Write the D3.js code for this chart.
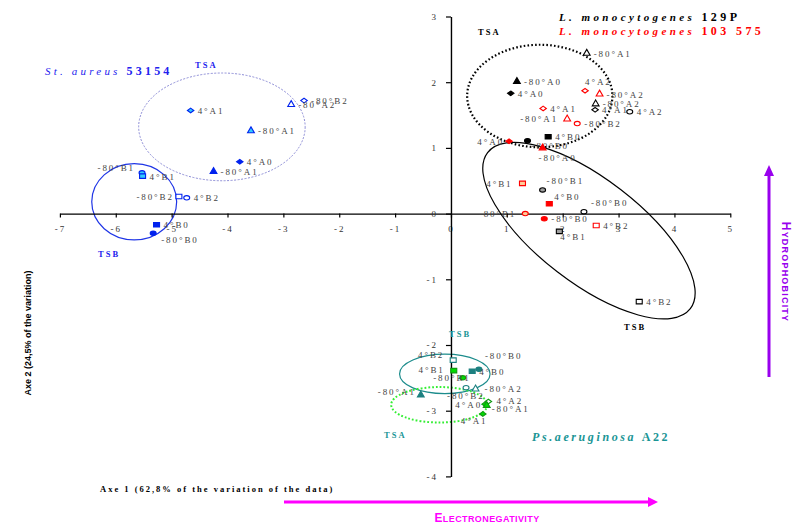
<!DOCTYPE html>
<html>
<head>
<meta charset="utf-8">
<script src="https://cdn.jsdelivr.net/npm/d3@7"></script>
<style>
    body { margin: 0; background: #fff; }
    .tick text { font-family: "Liberation Serif", serif; font-size: 9px; fill: #333; letter-spacing: 2px; }
    .pt-label { font-family: "Liberation Serif", serif; font-size: 9px; fill: #444; letter-spacing: 1.9px; }
    .grp { font-family: "Liberation Serif", serif; font-size: 8.5px; font-weight: bold; letter-spacing: 2px; }
</style>
</head>
<body>
<div id="chart"></div>
<script>
// axis ticks
const xTicks = [-7, -6, -5, -4, -3, -2, -1, 0, 1, 2, 3, 4, 5];
const yTicks = [-4, -3, -2, -1, 0, 1, 2, 3];

// St. aureus 53154
const aureusLabels = ['4°A1', '-80°A2', '-80°B2', '-80°A1', '4°A0', '-80°A1', '-80°B1', '4°B1', '-80°B2', '4°B2', '4°B0', '-80°B0'];
const aureusX = [-4.66, -2.86, -2.63, -3.58, -3.78, -4.25, -5.53, -5.52, -4.87, -4.73, -5.27, -5.33];
const aureusY = [1.57, 1.66, 1.72, 1.26, 0.79, 0.64, 0.62, 0.57, 0.26, 0.24, -0.17, -0.30];
const aureusShapes = ['diamond', 'triangle', 'diamond', 'triangle', 'diamond', 'triangle', 'circle', 'square', 'square', 'circle', 'square', 'circle'];
const aureusKinds = ['light', 'open', 'open', 'light', 'solid', 'solid', 'light', 'light', 'open', 'open', 'solid', 'solid'];

// L. monocytogenes 129P
const l129Labels = ['-80°A1', '-80°A0', '4°A0', '-80°A2', '4°A1', '4°A2', '4°B0', '-80°B0', '-80°B1', '-80°B0', '4°B1', '4°B2'];
const l129X = [2.43, 1.18, 1.07, 2.59, 2.58, 3.20, 1.74, 1.37, 1.64, 2.38, 1.94, 3.37];
const l129Y = [2.44, 2.01, 1.83, 1.67, 1.58, 1.55, 1.17, 1.11, 0.36, 0.03, -0.27, -1.34];
const l129Shapes = ['triangle', 'triangle', 'diamond', 'triangle', 'diamond', 'circle', 'square', 'circle', 'circle', 'circle', 'square', 'square'];
const l129Kinds = ['open', 'solid', 'solid', 'open', 'open', 'open', 'solid', 'solid', 'grey', 'open', 'grey', 'open'];

// L. monocytogenes 103 575
const l103Labels = ['4°A2', '-80°A2', '4°A1', '-80°A1', '-80°B2', '4°A0', '-80°A0', '4°B1', '4°B0', '-80°B1', '-80°B0', '4°B2'];
const l103X = [2.40, 2.66, 1.65, 2.08, 2.26, 1.04, 1.64, 1.28, 1.76, 1.33, 1.67, 2.60];
const l103Y = [1.87, 1.82, 1.60, 1.44, 1.37, 1.10, 1.00, 0.46, 0.15, 0.00, -0.08, -0.18];
const l103Shapes = ['diamond', 'triangle', 'diamond', 'triangle', 'circle', 'diamond', 'triangle', 'square', 'square', 'circle', 'circle', 'square'];
const l103Kinds = ['open', 'open', 'open', 'open', 'open', 'solid', 'solid', 'light', 'solid', 'light', 'solid', 'open'];

// Ps. aeruginosa A22
const psLabels = ['4°B2', '4°B1', '4°B0', '-80°B0', '-80°B1', '-80°B2', '-80°A2', '-80°A1', '4°A2', '4°A0', '-80°A1', '4°A1'];
const psX = [0.04, 0.05, 0.38, 0.50, 0.21, 0.27, 0.44, -0.54, 0.67, 0.61, 0.64, 0.57];
const psY = [-2.23, -2.39, -2.40, -2.37, -2.50, -2.65, -2.67, -2.76, -2.86, -2.90, -2.92, -3.05];
const psShapes = ['square', 'square', 'square', 'circle', 'circle', 'circle', 'triangle', 'triangle', 'diamond', 'diamond', 'triangle', 'diamond'];
const psKinds = ['open', 'green', 'solid', 'solid', 'green', 'open', 'open', 'solid', 'greenOpen', 'green', 'green', 'green'];

// confidence ellipses (centre and radii in axis units)
const ellipseNames = ['aureusTSA', 'aureusTSB', 'listeriaTSA', 'listeriaTSB', 'psTSB', 'psTSA'];
const ellipseCx = [-4.10, -5.67, 1.59, 2.47, -0.11, -0.21];
const ellipseCy = [1.32, 0.18, 1.79, -0.26, -2.44, -2.91];
const ellipseRx = [1.49, 0.76, 1.30, 2.29, 0.81, 0.86];
const ellipseRy = [0.82, 0.58, 0.78, 0.79, 0.30, 0.27];
const ellipseAngle = [0, 0, 0, 37.6, 0, 0];

// label placement next to the markers: [dx, dy, anchor]
const def = [7, 3.5, 'start'];
const aureusLabelPos = [def, def, def, def, def, def, [-7, -2, 'end'], def, [-5, 3.5, 'end'], def, def, [8, 10, 'start']];
const l129LabelPos = [def, def, def, def, def, def, def, [4, 8, 'start'], [4, -6, 'start'], [7, -6, 'start'], [1, 9, 'start'], def];
const l103LabelPos = [[0, -6, 'start'], def, def, [-9, 3.5, 'end'], def, [-5, 4, 'end'], [-4, 13, 'start'], [-10, 3.5, 'end'], [5, -4, 'start'], [-9, 3.5, 'end'], def, def];
const psLabelPos = [[-9, -2, 'end'], [-9, 2, 'end'], [7, 4, 'start'], [6, -10, 'start'], [8, 3.5, 'end'], [-19, 11, 'start'], [9, 3, 'start'], [-5, 0, 'end'], [8, 2, 'start'], [-3, 4, 'end'], [5, 7, 'start'], [-22, 10, 'start']];

const width = 792, height = 524;
const svg = d3.select('#chart').append('svg')
    .attr('width', width)
    .attr('height', height);

const x = d3.scaleLinear().domain([-7, 5]).range([59.9, 730.3]);
const y = d3.scaleLinear().domain([-4, 3]).range([476.4, 16.5]);

const symbolTypes = {
    circle: {type: d3.symbolCircle, size: 21, sx: 1.15, sy: 0.85},
    square: {type: d3.symbolSquare, size: 25, sx: 1.2, sy: 0.9},
    triangle: {type: d3.symbolTriangle, size: 20, sx: 1, sy: 1},
    diamond: {type: d3.symbolDiamond, size: 16, sx: 1.5, sy: 0.62}
};

function initAxes() {
    let gx = svg.append('g')
        .attr('transform', 'translate(0,' + y(0) + ')')
        .call(d3.axisBottom(x).tickValues(xTicks).tickFormat(d => String(d))
            .tickSize(4).tickPadding(8).tickSizeOuter(0));
    let gy = svg.append('g')
        .attr('transform', 'translate(' + x(0) + ',0)')
        .call(d3.axisLeft(y).tickValues(yTicks).tickFormat(d => String(d))
            .tickSize(5).tickPadding(8).tickSizeOuter(0));
    [gx, gy].forEach(g => {
        g.select('.domain').attr('stroke', '#000').attr('stroke-width', 1.4);
        g.selectAll('.tick line').attr('stroke', '#000').attr('stroke-width', 1.2);
    });
}

function drawEllipses() {
    let styles = {
        aureusTSA: {stroke: '#8c8cd6', width: 1, dash: '2,1.5'},
        aureusTSB: {stroke: '#1f35e6', width: 1.2, dash: null},
        listeriaTSA: {stroke: '#000', width: 2.2, dash: '1.6,2.2'},
        listeriaTSB: {stroke: '#000', width: 1.2, dash: null},
        psTSB: {stroke: '#1c8c8c', width: 1.2, dash: null},
        psTSA: {stroke: '#33ee33', width: 2, dash: '1.8,2'}
    };
    ellipseNames.forEach((name, i) => {
        let st = styles[name];
        svg.append('ellipse')
            .attr('transform', 'translate(' + x(ellipseCx[i]) + ',' + y(ellipseCy[i]) + ') rotate(' + ellipseAngle[i] + ')')
            .attr('rx', x(ellipseRx[i]) - x(0))
            .attr('ry', y(0) - y(ellipseRy[i]))
            .attr('fill', 'none')
            .attr('stroke', st.stroke)
            .attr('stroke-width', st.width)
            .attr('stroke-dasharray', st.dash);
    });
}

function drawSeries(s) {
    let rows = s.labels.map((lab, i) => ({
        label: lab, x: s.xs[i], y: s.ys[i], shape: s.shapes[i], kind: s.kinds[i], pos: s.pos[i]
    }));
    let g = svg.append('g');

    g.selectAll('path.mk')
        .data(rows)
        .join('path')
        .attr('class', 'mk')
        .attr('d', d => d3.symbol().type(symbolTypes[d.shape].type).size(symbolTypes[d.shape].size)())
        .attr('transform', d => 'translate(' + x(d.x) + ',' + y(d.y) + ') scale(' + symbolTypes[d.shape].sx + ',' + symbolTypes[d.shape].sy + ')')
        .attr('fill', d => s.fill(d.kind))
        .attr('stroke', d => s.stroke(d.kind))
        .attr('stroke-width', 1.1)
        .attr('vector-effect', 'non-scaling-stroke');

    g.selectAll('text')
        .data(rows)
        .join('text')
        .attr('class', 'pt-label')
        .attr('x', d => x(d.x) + d.pos[0])
        .attr('y', d => y(d.y) + d.pos[1])
        .attr('text-anchor', d => d.pos[2])
        .text(d => d.label);
}

function initSeries() {
    drawSeries({
        labels: aureusLabels, xs: aureusX, ys: aureusY, shapes: aureusShapes, kinds: aureusKinds, pos: aureusLabelPos,
        fill: k => k === 'solid' ? '#0022ee' : (k === 'light' ? '#33ccff' : '#fff'),
        stroke: k => '#0022ee'
    });
    drawSeries({
        labels: l129Labels, xs: l129X, ys: l129Y, shapes: l129Shapes, kinds: l129Kinds, pos: l129LabelPos,
        fill: k => k === 'solid' ? '#000' : (k === 'grey' ? '#a0a0a0' : '#fff'),
        stroke: k => '#000'
    });
    drawSeries({
        labels: l103Labels, xs: l103X, ys: l103Y, shapes: l103Shapes, kinds: l103Kinds, pos: l103LabelPos,
        fill: k => k === 'solid' ? '#ff0000' : (k === 'light' ? '#ffcc99' : '#fff'),
        stroke: k => '#ff0000'
    });
    drawSeries({
        labels: psLabels, xs: psX, ys: psY, shapes: psShapes, kinds: psKinds, pos: psLabelPos,
        fill: k => k === 'solid' ? '#1c8080' : (k === 'green' ? '#00dd00' : '#fff'),
        stroke: k => (k === 'green' || k === 'greenOpen') ? '#119911' : '#1c8080'
    });
}

function spaced(sel, parts) {
    parts.forEach(p => {
        sel.append('tspan')
            .attr('font-style', p.italic ? 'italic' : 'normal')
            .attr('font-weight', p.bold ? 'bold' : 'normal')
            .attr('font-size', p.size)
            .text(p.text);
    });
}

function initTitles() {
    let serif = '"Liberation Serif", serif';

    let t1 = svg.append('text').attr('x', 45).attr('y', 75)
        .attr('font-family', serif).attr('fill', '#2222ee').attr('letter-spacing', '3.2px');
    spaced(t1, [{text: 'St. aureus ', italic: true, bold: false, size: '11px'}, {text: '53154', bold: true, size: '12px'}]);

    let t2 = svg.append('text').attr('x', 559).attr('y', 21)
        .attr('font-family', serif).attr('fill', '#000').attr('letter-spacing', '3.4px');
    spaced(t2, [{text: 'L. monocytogenes ', italic: true, bold: true, size: '11px'}, {text: '129P', bold: true, size: '12px'}]);

    let t3 = svg.append('text').attr('x', 559).attr('y', 35)
        .attr('font-family', serif).attr('fill', '#ff0000').attr('letter-spacing', '3.4px');
    spaced(t3, [{text: 'L. monocytogenes ', italic: true, bold: true, size: '11px'}, {text: '103 575', bold: true, size: '12px'}]);

    let t4 = svg.append('text').attr('x', 532).attr('y', 441)
        .attr('font-family', serif).attr('fill', '#1a9595').attr('letter-spacing', '2.6px');
    spaced(t4, [{text: 'Ps.aeruginosa ', italic: true, bold: true, size: '12px'}, {text: 'A22', bold: true, size: '12px'}]);

    let groups = [
        {t: 'TSA', x: 195, y: 68, c: '#2222ee'},
        {t: 'TSB', x: 98, y: 257, c: '#2222ee'},
        {t: 'TSA', x: 478, y: 35, c: '#000'},
        {t: 'TSB', x: 624, y: 330, c: '#000'},
        {t: 'TSB', x: 449, y: 337, c: '#1a9595'},
        {t: 'TSA', x: 384, y: 438, c: '#1a9595'}
    ];
    svg.selectAll('text.grp')
        .data(groups)
        .join('text')
        .attr('class', 'grp')
        .attr('x', d => d.x)
        .attr('y', d => d.y)
        .attr('fill', d => d.c)
        .text(d => d.t);

    svg.append('text')
        .attr('x', 100).attr('y', 492)
        .attr('font-family', serif).attr('font-size', '8.5px').attr('font-weight', 'bold')
        .attr('letter-spacing', '2px')
        .text('Axe 1 (62,8% of the variation of the data)');

    svg.append('text')
        .attr('transform', 'translate(31,333) rotate(-90)')
        .attr('text-anchor', 'middle')
        .attr('font-family', '"Liberation Sans", Arial, sans-serif').attr('font-size', '9px').attr('font-weight', 'bold')
        .text('Axe 2 (24,5% of the variation)');
}

function initArrows() {
    // electronegativity arrow
    svg.append('line')
        .attr('x1', 284).attr('y1', 502).attr('x2', 650).attr('y2', 502)
        .attr('stroke', '#ff00ff').attr('stroke-width', 3);
    svg.append('path')
        .attr('d', 'M648,497 L658,502 L648,507 Z')
        .attr('fill', '#ff00ff');
    let e = svg.append('text')
        .attr('x', 487).attr('y', 522)
        .attr('text-anchor', 'middle')
        .attr('font-family', '"Liberation Sans", Arial, sans-serif').attr('font-weight', 'bold')
        .attr('fill', '#ff00ff').attr('letter-spacing', '0.4px');
    e.append('tspan').attr('font-size', '12px').text('E');
    e.append('tspan').attr('font-size', '9px').text('LECTRONEGATIVITY');

    // hydrophobicity arrow
    svg.append('line')
        .attr('x1', 769).attr('y1', 377).attr('x2', 769).attr('y2', 174)
        .attr('stroke', '#9900ee').attr('stroke-width', 3);
    svg.append('path')
        .attr('d', 'M764,176 L769,165 L774,176 Z')
        .attr('fill', '#9900ee');
    let h = svg.append('text')
        .attr('transform', 'translate(782,272) rotate(90)')
        .attr('text-anchor', 'middle')
        .attr('font-family', '"Liberation Sans", Arial, sans-serif').attr('font-weight', 'bold')
        .attr('fill', '#9900ee').attr('letter-spacing', '1.2px');
    h.append('tspan').attr('font-size', '12px').text('H');
    h.append('tspan').attr('font-size', '9px').text('YDROPHOBICITY');
}

function initChart() {
    drawEllipses();
    initAxes();
    initSeries();
    initTitles();
    initArrows();
}

initChart();
</script>
</body>
</html>
